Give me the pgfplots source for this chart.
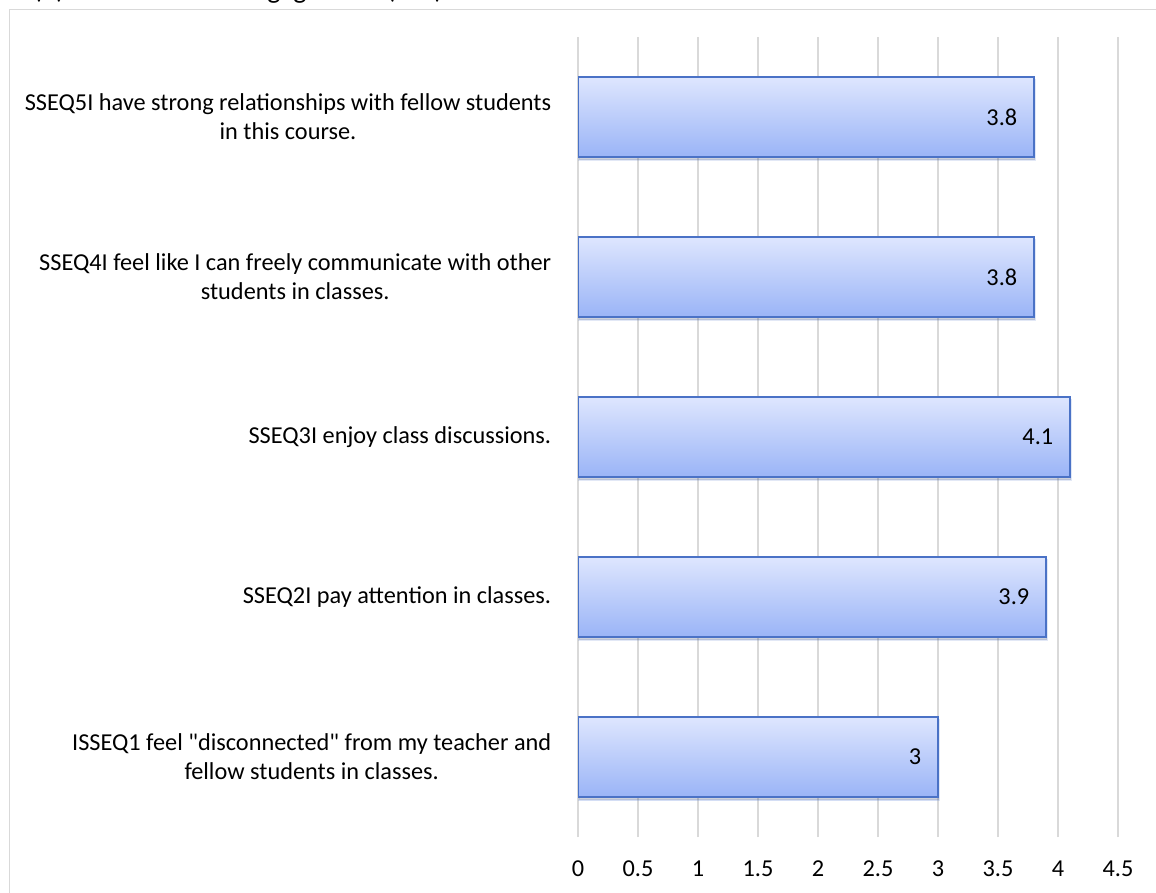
\documentclass[border=0pt]{standalone}
\usepackage{pgfplots}
\pgfplotsset{compat=1.18}
\usepackage{fontspec}
\setmainfont{Carlito}
\usetikzlibrary{shadows}

\definecolor{barTop}{HTML}{DEE6FE}
\definecolor{barBottom}{HTML}{9AB4F7}
\definecolor{barEdge}{HTML}{4A72C6}
\definecolor{gridGray}{HTML}{D9D9D9}

\begin{document}
\begin{tikzpicture}
  \useasboundingbox (0,0) rectangle (1156bp,893bp);
  % outer chart frame
  \draw[gridGray, line width=1.2bp] (9.5bp,-20bp) -- (9.5bp,883.5bp) -- (1180bp,883.5bp);
  % chart title (top edge of the sheet)
  \node[anchor=base west, inner sep=0pt, font=\fontsize{28bp}{32bp}\selectfont]
    at (33bp,894.5bp) {(b) Student Social Engagement (SSE)};
  \begin{axis}[
    at={(578bp,56bp)}, anchor=south west,
    scale only axis, width=540bp, height=800bp,
    xmin=0, xmax=4.5, ymin=-0.5, ymax=4.5,
    xbar, bar width=80bp, bar shift=0pt,
    axis line style={draw=none},
    major tick style={draw=none},
    xmajorgrids, grid style={gridGray, line width=1.5bp},
    xtick={0,0.5,...,4.5},
    ytick={0,1,2,3,4},
    yticklabels={
      {ISSEQ1 feel \textquotedbl disconnected\textquotedbl\ from my teacher and\\fellow students in classes.},
      {SSEQ2I pay attention in classes.},
      {SSEQ3I enjoy class discussions.},
      {SSEQ4I feel like I can freely communicate with other\\students in classes.},
      {SSEQ5I have strong relationships with fellow students\\in this course.}},
    yticklabel style={align=center, font=\fontsize{24.3bp}{29bp}\selectfont, xshift=-19bp},
    xticklabel style={font=\fontsize{24.3bp}{29bp}\selectfont, yshift=-20bp},
    /pgf/number format/assume math mode=true,
    nodes near coords,
    every node near coord/.append style={anchor=east, xshift=-16bp, inner sep=0pt,
      font=\fontsize{24.3bp}{29bp}\selectfont, text=black},
    barstyle/.style={draw=barEdge, line width=1.5bp, top color=barTop, bottom color=barBottom,
      drop shadow={shadow xshift=1bp, shadow yshift=-3bp, opacity=0.16, fill=black}},
  ]
    % one plot per item so every bar gets its own gradient
    \addplot[barstyle] coordinates {(3,0)};
    \addplot[barstyle] coordinates {(3.9,1)};
    \addplot[barstyle] coordinates {(4.1,2)};
    \addplot[barstyle] coordinates {(3.8,3)};
    \addplot[barstyle] coordinates {(3.8,4)};
  \end{axis}
\end{tikzpicture}
\end{document}
